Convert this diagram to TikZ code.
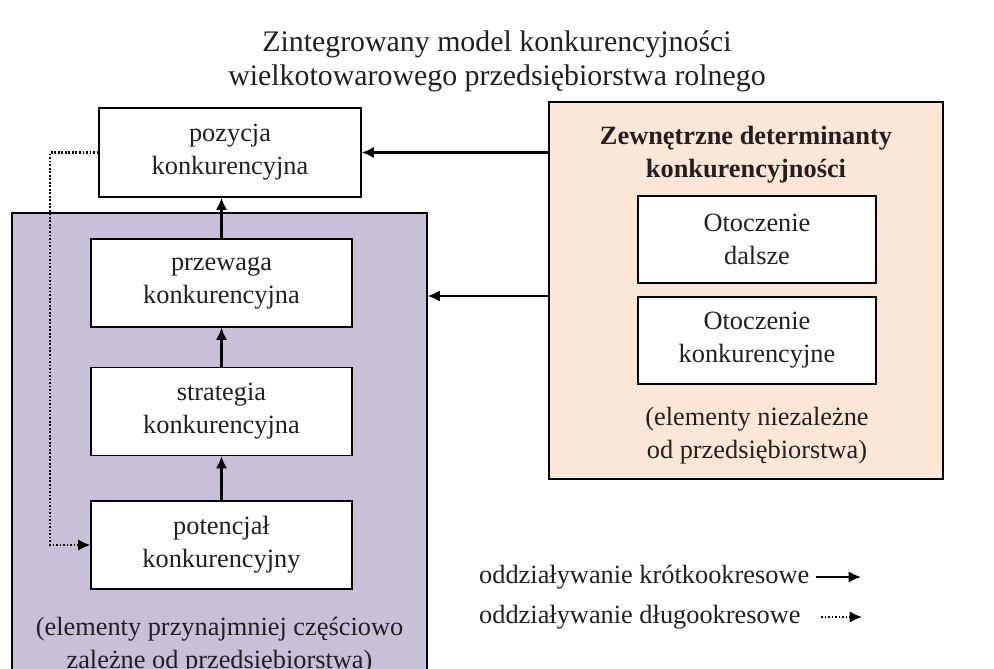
\documentclass[tikz,border=0pt]{standalone}
\usepackage{fontspec}
\setmainfont{Liberation Serif}
\usetikzlibrary{arrows.meta}
\definecolor{fiolet}{RGB}{200,191,216}
\definecolor{morela}{RGB}{252,231,215}
\definecolor{tekst}{RGB}{35,31,32}
\begin{document}
\begin{tikzpicture}[x=0.02cm,y=-0.02cm,
  every node/.style={text=tekst,font=\fontsize{15}{18.7}\selectfont},
  pole/.style={draw,line width=0.8pt,fill=white,align=center,inner sep=0pt},
  strz/.style={draw,line width=1.3pt,-{Latex[length=7pt,width=6.5pt]}},
  kropki/.style={draw,line width=1.2pt,dash pattern=on 1pt off 1pt,-{Latex[length=7pt,width=6.5pt]}}]
\useasboundingbox (0,0) rectangle (994,669);
\clip (0,0) rectangle (994,669);
% tytul
\node[align=center,font=\fontsize{17}{19.5}\selectfont] (tytul) at (497,61) {Zintegrowany model konkurencyjności\\wielkotowarowego przedsiębiorstwa rolnego};
% czesc wewnetrzna
\node[draw,line width=0.8pt,fill=fiolet,minimum width=8.3cm,minimum height=9.18cm] (firma) at (219.5,442.5) {};
\node[align=center] (firmaopis) at (219.5,646) {(elementy przynajmniej częściowo\\zależne od przedsiębiorstwa)};
\node[pole,minimum width=5.24cm,minimum height=1.78cm] (poz) at (230,152.5) {pozycja\\konkurencyjna};
\node[pole,minimum width=5.22cm,minimum height=1.76cm] (prz) at (221.5,283) {przewaga\\konkurencyjna};
\node[pole,minimum width=5.22cm,minimum height=1.76cm] (str) at (221.5,411.5) {strategia\\konkurencyjna};
\node[pole,minimum width=5.22cm,minimum height=1.76cm] (pot) at (221.5,545) {potencjał\\konkurencyjny};
% czesc zewnetrzna
\node[draw,line width=0.8pt,fill=morela,minimum width=7.88cm,minimum height=7.54cm] (zew) at (746,290.5) {};
\node[align=center,font=\bfseries\fontsize{15}{18.7}\selectfont] (zewtytul) at (746,155) {Zewnętrzne determinanty\\konkurencyjności};
\node[pole,minimum width=4.76cm,minimum height=1.74cm] (dal) at (757,239.5) {Otoczenie\\dalsze};
\node[pole,minimum width=4.76cm,minimum height=1.74cm] (kon) at (757,340.5) {Otoczenie\\konkurencyjne};
\node[align=center] (zewopis) at (757,436) {(elementy niezależne\\od przedsiębiorstwa)};
% polaczenia
\coordinate (zew1) at (549,296);
\path[strz] (zew.west |- poz.east) -- (poz.east);
\path[strz] (zew1) -- (firma.east |- zew1);
\path[strz] (pot.north) -- (str.south);
\path[strz] (str.north) -- (prz.south);
\path[strz] (prz.north) -- (prz.north |- poz.south);
\path[kropki] (poz.west) -- ++(-48,0) |- (pot.west);
% legenda
\node[anchor=west] (lkr) at (473,577) {oddziaływanie krótkookresowe};
\node[anchor=west] (ldl) at (473,617) {oddziaływanie długookresowe};
\coordinate (lkr1) at (816,577);
\coordinate (lkr2) at (861,577);
\coordinate (ldl1) at (821,617);
\coordinate (ldl2) at (862,617);
\path[strz] (lkr1) -- (lkr2);
\path[kropki] (ldl1) -- (ldl2);
\end{tikzpicture}
\end{document}
